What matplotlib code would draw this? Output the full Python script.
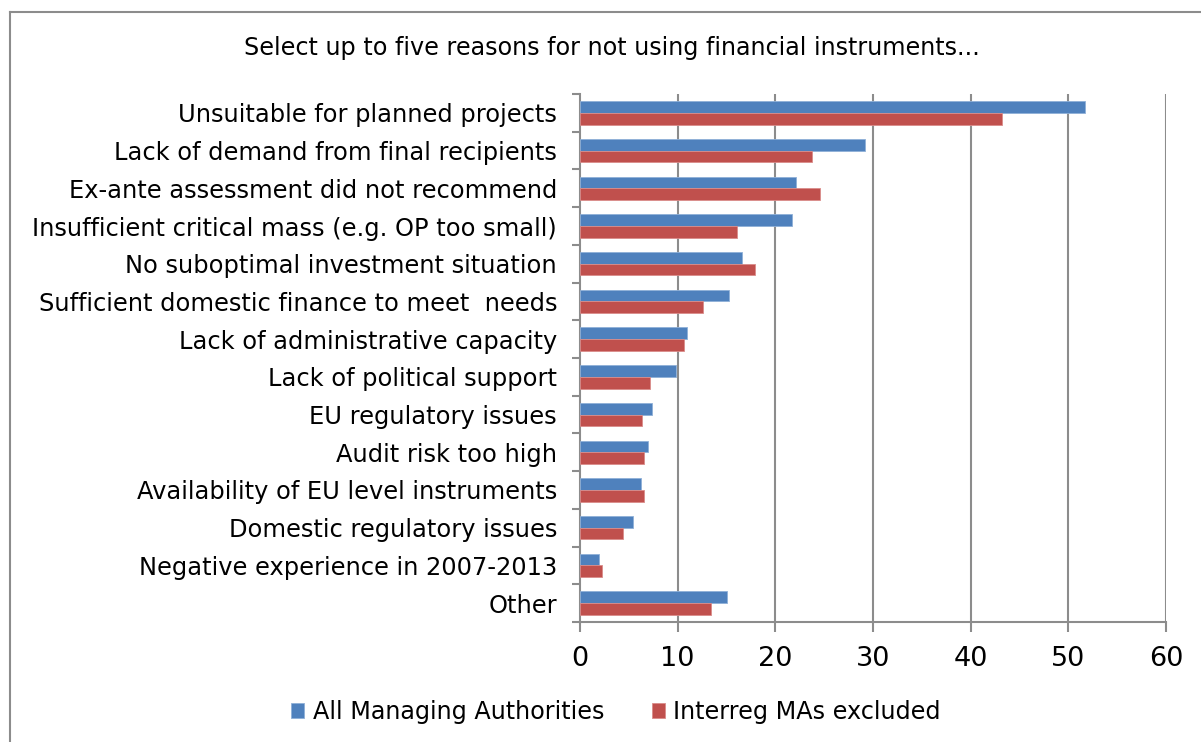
import matplotlib
matplotlib.use("Agg")
import matplotlib.pyplot as plt
from matplotlib.lines import Line2D
import numpy as np

categories = [
    "Unsuitable for planned projects",
    "Lack of demand from final recipients",
    "Ex-ante assessment did not recommend",
    "Insufficient critical mass (e.g. OP too small)",
    "No suboptimal investment situation",
    "Sufficient domestic finance to meet  needs",
    "Lack of administrative capacity",
    "Lack of political support",
    "EU regulatory issues",
    "Audit risk too high",
    "Availability of EU level instruments",
    "Domestic regulatory issues",
    "Negative experience in 2007-2013",
    "Other",
]
all_mas = [51.7, 29.2, 22.1, 21.7, 16.55, 15.3, 11.0, 9.8, 7.4, 7.0, 6.2, 5.4, 1.9, 15.1]
interreg_excl = [43.2, 23.8, 24.6, 16.1, 17.95, 12.6, 10.65, 7.2, 6.3, 6.6, 6.6, 4.45, 2.3, 13.4]
series_names = ["All Managing Authorities", "Interreg MAs excluded"]
x_ticks = [0, 10, 20, 30, 40, 50, 60]
title = "Select up to five reasons for not using financial instruments..."

blue = "#4F81BD"
red = "#C0504D"
grey = "#8C8C8C"

plt.rcParams['font.family'] = ['DejaVu Sans']

fig = plt.figure(figsize=(12.01, 7.42), dpi=100)
ax = fig.add_axes([580/1201, (742-622)/742, (1166-580)/1201, (622-94)/742])

y = np.arange(len(categories))
h = 0.31
ax.barh(y - h/2, all_mas, height=h, color=blue, edgecolor="#8FB0D8", linewidth=0.6,
        label=series_names[0], zorder=3)
ax.barh(y + h/2, interreg_excl, height=h, color=red, edgecolor="#DA8C8A", linewidth=0.6,
        label=series_names[1], zorder=3)

ax.set_xlim(0, 60)
ax.set_ylim(len(categories) - 0.5, -0.5)
ax.set_xticks(x_ticks)
ax.set_xticklabels([str(t) for t in x_ticks], fontsize=19.5)
ax.set_yticks(y)
ax.set_yticklabels(categories, fontsize=17.4)
ax.set_yticks(np.arange(len(categories) + 1) - 0.5, minor=True)
ax.tick_params(axis='y', which='major', length=0, pad=16.5, colors='black')
ax.tick_params(axis='y', which='minor', length=6, width=1.5, color=grey, direction='out')
ax.tick_params(axis='x', which='major', length=7, width=1.5, color=grey, direction='out', pad=10)

for xv in x_ticks[1:]:
    ax.axvline(xv, color=grey, linewidth=1.5, zorder=1)

for s in ['top', 'right']:
    ax.spines[s].set_visible(False)
for s in ['left', 'bottom']:
    ax.spines[s].set_color(grey)
    ax.spines[s].set_linewidth(1.5)

fig.text(612/1201, 1 - 48/742, title, ha='center', va='center', fontsize=17.2)

handles, labels = ax.get_legend_handles_labels()
fig.legend(handles, labels, loc='center', bbox_to_anchor=(616/1201, 30/742), ncol=2,
           frameon=False, fontsize=17.2, handlelength=0.55, handleheight=0.55,
           handletextpad=0.35, columnspacing=2.0)

# outer chart border (top and left)
fig.add_artist(Line2D([10/1201, 1.0], [1 - 12/742, 1 - 12/742], transform=fig.transFigure,
                      color="#8C8C8C", linewidth=1.5))
fig.add_artist(Line2D([10/1201, 10/1201], [0.0, 1 - 12/742], transform=fig.transFigure,
                      color="#8C8C8C", linewidth=1.5))

fig.savefig("out.png", dpi=100, facecolor="white")
